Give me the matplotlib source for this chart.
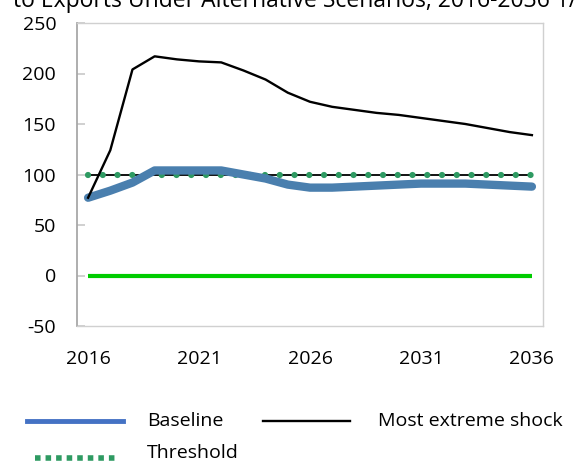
import matplotlib.pyplot as plt
from matplotlib.lines import Line2D

plt.rcParams["font.family"] = ["Open Sans", "DejaVu Sans"]
plt.rcParams["axes.unicode_minus"] = False

# ── Data ───────────────────────────────────────────────────────────────
years = list(range(2016, 2037))
baseline = [77, 84, 92, 104, 104, 104, 104, 100, 96, 90, 87,
            87, 88, 89, 90, 91, 91, 91, 90, 89, 88]
extreme_shock = [77, 124, 204, 217, 214, 212, 211, 203, 194, 181, 172,
                 167, 164, 161, 159, 156, 153, 150, 146, 142, 139]
threshold = [100] * len(years)
zero_line = [0] * len(years)

y_ticks = [-50, 0, 50, 100, 150, 200, 250]
x_ticks = [2016, 2021, 2026, 2031, 2036]

W, H = 584, 463
fig = plt.figure(figsize=(W / 100, H / 100), dpi=100)
ax = fig.add_axes([77 / W, 1 - 326 / H, (543 - 77) / W, (326 - 23) / H])

# ── Series ─────────────────────────────────────────────────────────────
ax.plot(years, zero_line, color="#00CC00", lw=3, solid_capstyle="butt", zorder=2)
ax.plot(years, threshold, color="black", lw=1.3, zorder=3)
ax.plot(years, threshold, color="#2E9A62", lw=4.5,
        linestyle=(0, (0.01, 2.35)), dash_capstyle="round", zorder=4)
ax.plot(years, baseline, color="#4A7FAE", lw=6, solid_capstyle="round",
        solid_joinstyle="round", zorder=5)
ax.plot(years, extreme_shock, color="black", lw=1.7, zorder=6)

ax.set_xlim(2015.5, 2036.5)
ax.set_ylim(-50, 250)
ax.set_xticks(x_ticks)
ax.set_yticks(y_ticks)
ax.tick_params(axis="y", direction="in", length=6, width=1.2, color="#C8C8C8",
               labelsize=14, pad=15)
ax.tick_params(axis="x", length=0, labelsize=14, pad=17)

for side in ["top", "right", "bottom"]:
    ax.spines[side].set_color("#D0D0D0")
    ax.spines[side].set_linewidth(1)
ax.spines["left"].set_color("#A8A8A8")
ax.spines["left"].set_linewidth(1.3)

# ── Title (runs off the top edge) ──────────────────────────────────────
fig.text(13 / W, 1 - 7 / H,
         "to Exports Under Alternative Scenarios, 2016-2036 1/",
         ha="left", va="baseline", fontsize=16.5)

# ── Legend ─────────────────────────────────────────────────────────────
def px(x, y):
    return x / W, 1 - y / H

def legend_line(x0, x1, y, **kw):
    (fx0, fy), (fx1, _) = px(x0, y), px(x1, y)
    fig.add_artist(Line2D([fx0, fx1], [fy, fy], transform=fig.transFigure, **kw))

legend_line(27, 123, 421, color="#4472C4", lw=3.5)
legend_line(263, 350, 421, color="black", lw=1.7)
legend_line(35, 118, 458, color="#2E9A62", lw=4,
            linestyle=(0, (1, 0.9)), dash_capstyle="butt")

fs = 14
fig.text(*px(147, 421), "Baseline", va="center", fontsize=fs)
fig.text(*px(378, 421), "Most extreme shock", va="center", fontsize=fs)
fig.text(*px(147, 453), "Threshold", va="center", fontsize=fs)

fig.savefig("out.png", dpi=100)
